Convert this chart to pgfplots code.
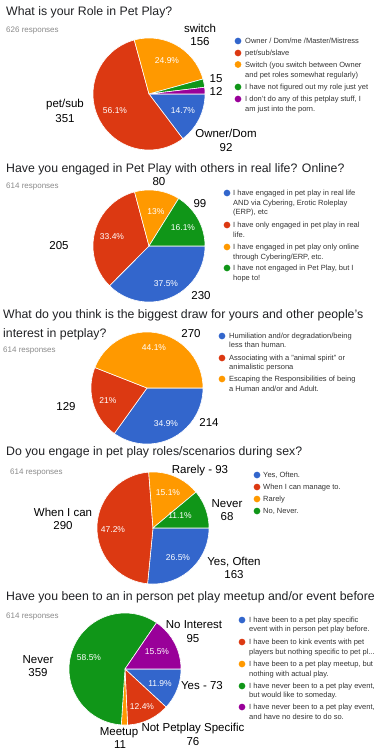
\documentclass[border=0pt]{standalone}
\usepackage{pgfplots}
\pgfplotsset{compat=1.18}
\usepackage{fontspec}
\setmainfont{Liberation Sans}
\definecolor{gblue}{HTML}{3366CC}
\definecolor{gred}{HTML}{DC3912}
\definecolor{gorange}{HTML}{FF9900}
\definecolor{ggreen}{HTML}{109618}
\definecolor{gpurple}{HTML}{990099}
\definecolor{titlec}{HTML}{202124}
\definecolor{respc}{HTML}{8A8A8A}
\definecolor{legc}{HTML}{333333}
% \slice{cx}{cy}{cumulative count before}{count}{total}{colour}
\newcommand\slice[6]{%
  \pgfmathsetmacro\aS{-360*((#3)/(#5))}%
  \pgfmathsetmacro\aE{-360*(((#3)+(#4))/(#5))}%
  \edef\doit{\noexpand\addplot[fill=#6, draw=white, line width=0.6pt, domain=\aE:\aS, samples=60]
    ({#1+56*cos(x)},{#2-56*sin(x)}) -- (axis cs:#1,#2) -- cycle;}%
  \doit}
\newcommand\legdot[3]{\addplot[only marks, mark=*, mark size=3.1pt, color=#3] coordinates {(#1,#2)};}
\tikzset{
  ttl/.style={anchor=base west, inner sep=0pt, font=\fontsize{12.3}{14}\selectfont, text=titlec},
  resp/.style={anchor=base west, inner sep=0pt, font=\fontsize{8}{9}\selectfont, text=respc},
  lab/.style={anchor=base, inner sep=0pt, font=\fontsize{11.5}{13}\selectfont, text=black},
  pct/.style={anchor=base, inner sep=0pt, font=\fontsize{8.5}{10}\selectfont, text=white},
  leg/.style={anchor=base west, inner sep=0pt, font=\fontsize{7.5}{9}\selectfont, text=legc},
}
\begin{document}
\begin{tikzpicture}
\begin{axis}[scale only axis, width=375pt, height=750pt,
  xmin=0, xmax=375, ymin=0, ymax=750, y dir=reverse,
  hide axis, clip=false]
% ---------------- Chart 1 (total 626)
\slice{149}{94}{0}{92}{626}{gblue}
\slice{149}{94}{92}{351}{626}{gred}
\slice{149}{94}{443}{156}{626}{gorange}
\slice{149}{94}{599}{15}{626}{ggreen}
\slice{149}{94}{614}{12}{626}{gpurple}
\node[ttl] at (axis cs:6,15) {What is your Role in Pet Play?};
\node[resp] at (axis cs:6,32) {626 responses};
\node[lab] at (axis cs:200,32) {switch};
\node[lab] at (axis cs:200,45) {156};
\node[lab] at (axis cs:216,82) {15};
\node[lab] at (axis cs:216,95) {12};
\node[lab] at (axis cs:65,107) {pet/sub};
\node[lab] at (axis cs:65,122) {351};
\node[lab] at (axis cs:226,137) {Owner/Dom};
\node[lab] at (axis cs:226,151) {92};
\node[pct] at (axis cs:167,63) {24.9\%};
\node[pct] at (axis cs:115,113) {56.1\%};
\node[pct] at (axis cs:183,113) {14.7\%};
\legdot{238}{41}{gblue}
\legdot{238}{53}{gred}
\legdot{238}{64.5}{gorange}
\legdot{238}{87}{ggreen}
\legdot{238}{99}{gpurple}
\node[leg] at (axis cs:245,43.7) {Owner / Dom/me /Master/Mistress};
\node[leg] at (axis cs:245,55.7) {pet/sub/slave};
\node[leg] at (axis cs:245,67.2) {Switch (you switch between Owner};
\node[leg] at (axis cs:245,77.2) {and pet roles somewhat regularly)};
\node[leg] at (axis cs:245,89.7) {I have not figured out my role just yet};
\node[leg] at (axis cs:245,101.7) {I don't do any of this petplay stuff, I};
\node[leg] at (axis cs:245,111.7) {am just into the porn.};
% ---------------- Chart 2 (total 614)
\slice{149}{246}{0}{230}{614}{gblue}
\slice{149}{246}{230}{205}{614}{gred}
\slice{149}{246}{435}{80}{614}{gorange}
\slice{149}{246}{515}{99}{614}{ggreen}
\node[ttl] at (axis cs:6,172.5) {Have you engaged in Pet Play with others in real life? Online?};
\node[resp] at (axis cs:6,188) {614 responses};
\node[lab] at (axis cs:159,185) {80};
\node[lab] at (axis cs:200,207) {99};
\node[lab] at (axis cs:59,249) {205};
\node[lab] at (axis cs:201,299) {230};
\node[pct] at (axis cs:156,214) {13\%};
\node[pct] at (axis cs:183,230) {16.1\%};
\node[pct] at (axis cs:112,239) {33.4\%};
\node[pct] at (axis cs:166,286) {37.5\%};
\legdot{227}{193}{gblue}
\legdot{227}{225}{gred}
\legdot{227}{247}{gorange}
\legdot{227}{268}{ggreen}
\node[leg] at (axis cs:233,195.7) {I have engaged in pet play in real life};
\node[leg] at (axis cs:233,205.2) {AND via Cybering, Erotic Roleplay};
\node[leg] at (axis cs:233,214.7) {(ERP), etc};
\node[leg] at (axis cs:233,227.7) {I have only engaged in pet play in real};
\node[leg] at (axis cs:233,237.7) {life.};
\node[leg] at (axis cs:233,249.7) {I have engaged in pet play only online};
\node[leg] at (axis cs:233,259.7) {through Cybering/ERP, etc.};
\node[leg] at (axis cs:233,270.7) {I have not engaged in Pet Play, but I};
\node[leg] at (axis cs:233,280.7) {hope to!};
% ---------------- Chart 3 (total 613 shown)
\slice{147}{388}{0}{214}{613}{gblue}
\slice{147}{388}{214}{129}{613}{gred}
\slice{147}{388}{343}{270}{613}{gorange}
\node[ttl] at (axis cs:3,318) {What do you think is the biggest draw for yours and other people's};
\node[ttl] at (axis cs:3,337) {interest in petplay?};
\node[resp] at (axis cs:3,352) {614 responses};
\node[lab] at (axis cs:191,337.5) {270};
\node[lab] at (axis cs:66,410) {129};
\node[lab] at (axis cs:209,426.5) {214};
\node[pct] at (axis cs:154,350.5) {44.1\%};
\node[pct] at (axis cs:108,403) {21\%};
\node[pct] at (axis cs:166,426.5) {34.9\%};
\legdot{222}{336}{gblue}
\legdot{222}{358}{gred}
\legdot{222}{379}{gorange}
\node[leg] at (axis cs:229,338.7) {Humiliation and/or degradation/being};
\node[leg] at (axis cs:229,347.7) {less than human.};
\node[leg] at (axis cs:229,360.7) {Associating with a "animal spirit" or};
\node[leg] at (axis cs:229,369.7) {animalistic persona};
\node[leg] at (axis cs:229,381.7) {Escaping the Responsibilities of being};
\node[leg] at (axis cs:229,391.7) {a Human and/or and Adult.};
% ---------------- Chart 4 (total 614)
\slice{153}{528}{0}{163}{614}{gblue}
\slice{153}{528}{163}{290}{614}{gred}
\slice{153}{528}{453}{93}{614}{gorange}
\slice{153}{528}{546}{68}{614}{ggreen}
\node[ttl] at (axis cs:6,455) {Do you engage in pet play roles/scenarios during sex?};
\node[resp] at (axis cs:10,474) {614 responses};
\node[lab] at (axis cs:200,473) {Rarely - 93};
\node[lab] at (axis cs:227,507) {Never};
\node[lab] at (axis cs:227,520) {68};
\node[lab] at (axis cs:63,516) {When I can};
\node[lab] at (axis cs:63,529) {290};
\node[lab] at (axis cs:234,565) {Yes, Often};
\node[lab] at (axis cs:234,578) {163};
\node[pct] at (axis cs:168,495) {15.1\%};
\node[pct] at (axis cs:180,518) {11.1\%};
\node[pct] at (axis cs:113,532) {47.2\%};
\node[pct] at (axis cs:178,560) {26.5\%};
\legdot{257}{475}{gblue}
\legdot{257}{487}{gred}
\legdot{257}{499}{gorange}
\legdot{257}{511}{ggreen}
\node[leg] at (axis cs:263,477.7) {Yes, Often.};
\node[leg] at (axis cs:263,489.7) {When I can manage to.};
\node[leg] at (axis cs:263,501.7) {Rarely};
\node[leg] at (axis cs:263,513.7) {No, Never.};
% ---------------- Chart 5 (total 614)
\slice{125}{669}{0}{73}{614}{gblue}
\slice{125}{669}{73}{76}{614}{gred}
\slice{125}{669}{149}{11}{614}{gorange}
\slice{125}{669}{160}{359}{614}{ggreen}
\slice{125}{669}{519}{95}{614}{gpurple}
\node[ttl] at (axis cs:6,600) {Have you been to an in person pet play meetup and/or event before};
\node[resp] at (axis cs:6,618) {614 responses};
\node[lab] at (axis cs:194,628) {No Interest};
\node[lab] at (axis cs:193,642) {95};
\node[lab] at (axis cs:38,663) {Never};
\node[lab] at (axis cs:38,676) {359};
\node[lab] at (axis cs:202,689) {Yes - 73};
\node[lab] at (axis cs:119,735) {Meetup};
\node[lab] at (axis cs:120,748) {11};
\node[lab] at (axis cs:193,731) {Not Petplay Specific};
\node[lab] at (axis cs:193,745) {76};
\node[pct] at (axis cs:89,660) {58.5\%};
\node[pct] at (axis cs:157,654) {15.5\%};
\node[pct] at (axis cs:160,686) {11.9\%};
\node[pct] at (axis cs:142,709) {12.4\%};
\legdot{242}{620}{gblue}
\legdot{242}{642}{gred}
\legdot{242}{664}{gorange}
\legdot{242}{686}{ggreen}
\legdot{242}{707}{gpurple}
\node[leg] at (axis cs:249,622.7) {I have been to a pet play specific};
\node[leg] at (axis cs:249,631.7) {event with in person pet play before.};
\node[leg] at (axis cs:249,644.7) {I have been to kink events with pet};
\node[leg] at (axis cs:249,654.7) {players but nothing specific to pet pl...};
\node[leg] at (axis cs:249,666.7) {I have been to a pet play meetup, but};
\node[leg] at (axis cs:249,676.7) {nothing with actual play.};
\node[leg] at (axis cs:249,688.7) {I have never been to a pet play event,};
\node[leg] at (axis cs:249,697.7) {but would like to someday.};
\node[leg] at (axis cs:249,709.7) {I have never been to a pet play event,};
\node[leg] at (axis cs:249,719.7) {and have no desire to do so.};
\end{axis}
\pgfresetboundingbox
\useasboundingbox (current axis.south west) rectangle (current axis.north east);
\end{tikzpicture}
\end{document}
